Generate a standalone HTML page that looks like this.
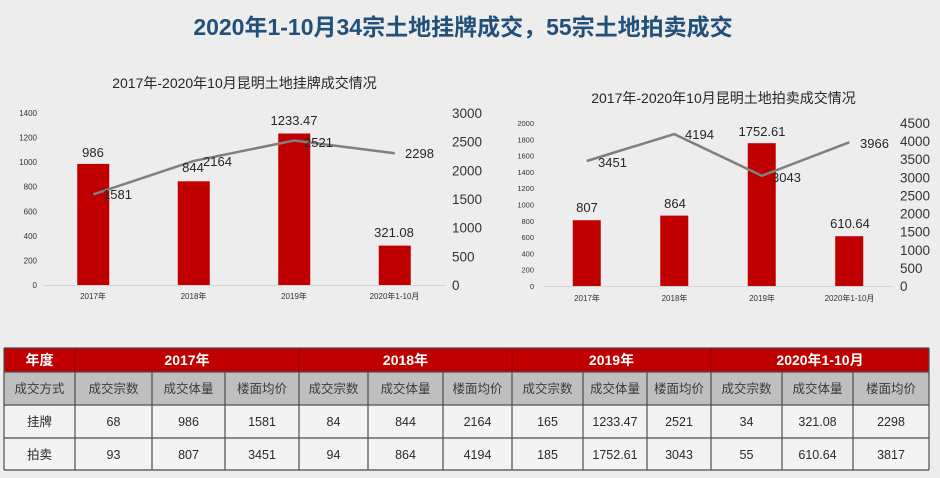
<!DOCTYPE html>
<html><head><meta charset="utf-8">
<style>
html,body{margin:0;padding:0;background:#eeeded;}
svg{display:block;}
text{font-family:"Liberation Sans","Noto Sans CJK SC",sans-serif;}
</style></head>
<body>
<svg width="940" height="478" viewBox="0 0 940 478" xmlns="http://www.w3.org/2000/svg">
<rect x="0" y="0" width="940" height="478" fill="#eeeded"/>
<!-- main title -->
<text x="463" y="35" text-anchor="middle" font-size="23" font-weight="bold" fill="#22507a" style="font-family:'Liberation Sans','Noto Sans CJK SC',sans-serif">2020年1-10月34宗土地挂牌成交，55宗土地拍卖成交</text>

<!-- ===== Chart 1 ===== -->
<text x="244.5" y="88" text-anchor="middle" font-size="14" fill="#262626">2017年-2020年10月昆明土地挂牌成交情况</text>
<g font-size="8" fill="#333" text-anchor="end">
<text x="37" y="288">0</text>
<text x="37" y="263.4">200</text>
<text x="37" y="238.9">400</text>
<text x="37" y="214.3">600</text>
<text x="37" y="189.7">800</text>
<text x="37" y="165.1">1000</text>
<text x="37" y="140.6">1200</text>
<text x="37" y="116">1400</text>
</g>
<g font-size="13.5" fill="#333">
<text x="452" y="290">0</text>
<text x="452" y="261.3">500</text>
<text x="452" y="232.7">1000</text>
<text x="452" y="204">1500</text>
<text x="452" y="175.3">2000</text>
<text x="452" y="146.7">2500</text>
<text x="452" y="118">3000</text>
</g>
<line x1="43" y1="285.5" x2="446" y2="285.5" stroke="#d4d4d4" stroke-width="1"/>
<g fill="#c00000">
<rect x="77.25" y="163.9" width="32" height="121.1"/>
<rect x="177.75" y="181.3" width="32" height="103.7"/>
<rect x="278.25" y="133.5" width="32" height="151.5"/>
<rect x="378.75" y="245.6" width="32" height="39.4"/>
</g>
<polyline points="93.25,194.4 193.75,160.9 294.25,140.5 394.75,153.2" fill="none" stroke="#7f7f7f" stroke-width="2.5"/>
<g font-size="13" fill="#262626">
<text x="93" y="157" text-anchor="middle">986</text>
<text x="193" y="172" text-anchor="middle">844</text>
<text x="294" y="125" text-anchor="middle">1233.47</text>
<text x="394" y="237" text-anchor="middle">321.08</text>
<text x="103" y="199">1581</text>
<text x="203" y="166">2164</text>
<text x="304" y="147">2521</text>
<text x="405" y="158">2298</text>
</g>
<g font-size="8" fill="#333" text-anchor="middle">
<text x="93" y="299">2017年</text>
<text x="193.5" y="299">2018年</text>
<text x="294" y="299">2019年</text>
<text x="394.5" y="299">2020年1-10月</text>
</g>

<!-- ===== Chart 2 ===== -->
<text x="723.5" y="103" text-anchor="middle" font-size="14" fill="#262626">2017年-2020年10月昆明土地拍卖成交情况</text>
<g font-size="7.5" fill="#333" text-anchor="end">
<text x="534" y="289">0</text>
<text x="534" y="272.7">200</text>
<text x="534" y="256.4">400</text>
<text x="534" y="240.1">600</text>
<text x="534" y="223.8">800</text>
<text x="534" y="207.5">1000</text>
<text x="534" y="191.2">1200</text>
<text x="534" y="174.9">1400</text>
<text x="534" y="158.6">1600</text>
<text x="534" y="142.3">1800</text>
<text x="534" y="126">2000</text>
</g>
<g font-size="13.5" fill="#333">
<text x="900" y="291">0</text>
<text x="900" y="272.9">500</text>
<text x="900" y="254.8">1000</text>
<text x="900" y="236.7">1500</text>
<text x="900" y="218.6">2000</text>
<text x="900" y="200.4">2500</text>
<text x="900" y="182.3">3000</text>
<text x="900" y="164.2">3500</text>
<text x="900" y="146.1">4000</text>
<text x="900" y="128">4500</text>
</g>
<line x1="543" y1="286.5" x2="893" y2="286.5" stroke="#d4d4d4" stroke-width="1"/>
<g fill="#c00000">
<rect x="572.75" y="220.2" width="28" height="65.8"/>
<rect x="660.25" y="215.6" width="28" height="70.4"/>
<rect x="747.75" y="143.2" width="28" height="142.8"/>
<rect x="835.25" y="236.2" width="28" height="49.8"/>
</g>
<polyline points="586.75,161 674.25,134.1 761.75,175.8 849.25,142.3" fill="none" stroke="#7f7f7f" stroke-width="2.5"/>
<g font-size="13" fill="#262626">
<text x="587" y="212" text-anchor="middle">807</text>
<text x="675" y="208" text-anchor="middle">864</text>
<text x="762" y="136" text-anchor="middle">1752.61</text>
<text x="850" y="228" text-anchor="middle">610.64</text>
<text x="598" y="167">3451</text>
<text x="685" y="139">4194</text>
<text x="772" y="182">3043</text>
<text x="860" y="148">3966</text>
</g>
<g font-size="8" fill="#333" text-anchor="middle">
<text x="587" y="301">2017年</text>
<text x="674.5" y="301">2018年</text>
<text x="762" y="301">2019年</text>
<text x="849.5" y="301">2020年1-10月</text>
</g>

<!-- ===== Table ===== -->
<rect x="4" y="348" width="925" height="24" fill="#c00000"/>
<rect x="4" y="372" width="925" height="33" fill="#bfbfbf"/>
<rect x="4" y="405" width="925" height="65" fill="#f3f3f3"/>
<g stroke="#8b0000" stroke-width="1">
<line x1="75" y1="348" x2="75" y2="372"/>
<line x1="299" y1="348" x2="299" y2="372"/>
<line x1="512" y1="348" x2="512" y2="372"/>
<line x1="711" y1="348" x2="711" y2="372"/>
</g>
<g stroke="#4d4d4d" stroke-width="1.2">
<line x1="4" y1="372" x2="929" y2="372"/>
<line x1="4" y1="405" x2="929" y2="405"/>
<line x1="4" y1="438" x2="929" y2="438"/>
<line x1="4" y1="470" x2="929" y2="470"/>
<line x1="4" y1="348" x2="929" y2="348"/>
<line x1="4" y1="348" x2="4" y2="470"/>
<line x1="929" y1="348" x2="929" y2="470"/>
<line x1="75" y1="372" x2="75" y2="470"/>
<line x1="152" y1="372" x2="152" y2="470"/>
<line x1="225" y1="372" x2="225" y2="470"/>
<line x1="299" y1="372" x2="299" y2="470"/>
<line x1="368" y1="372" x2="368" y2="470"/>
<line x1="443" y1="372" x2="443" y2="470"/>
<line x1="512" y1="372" x2="512" y2="470"/>
<line x1="583" y1="372" x2="583" y2="470"/>
<line x1="647" y1="372" x2="647" y2="470"/>
<line x1="711" y1="372" x2="711" y2="470"/>
<line x1="782" y1="372" x2="782" y2="470"/>
<line x1="853" y1="372" x2="853" y2="470"/>
</g>
<g font-size="14" font-weight="bold" fill="#ffffff" text-anchor="middle">
<text x="39.5" y="365">年度</text>
<text x="187" y="365">2017年</text>
<text x="405.5" y="365">2018年</text>
<text x="611.5" y="365">2019年</text>
<text x="820" y="365">2020年1-10月</text>
</g>
<g font-size="12.5" fill="#3a3a3a" text-anchor="middle">
<text x="39.5" y="393">成交方式</text>
<text x="113.5" y="393">成交宗数</text>
<text x="188.5" y="393">成交体量</text>
<text x="262" y="393">楼面均价</text>
<text x="333.5" y="393">成交宗数</text>
<text x="405.5" y="393">成交体量</text>
<text x="477.5" y="393">楼面均价</text>
<text x="547.5" y="393">成交宗数</text>
<text x="615" y="393">成交体量</text>
<text x="679" y="393">楼面均价</text>
<text x="746.5" y="393">成交宗数</text>
<text x="817.5" y="393">成交体量</text>
<text x="891" y="393">楼面均价</text>
</g>
<g font-size="12.5" fill="#2a2a2a" text-anchor="middle">
<text x="39.5" y="426">挂牌</text>
<text x="113.5" y="426">68</text>
<text x="188.5" y="426">986</text>
<text x="262" y="426">1581</text>
<text x="333.5" y="426">84</text>
<text x="405.5" y="426">844</text>
<text x="477.5" y="426">2164</text>
<text x="547.5" y="426">165</text>
<text x="615" y="426">1233.47</text>
<text x="679" y="426">2521</text>
<text x="746.5" y="426">34</text>
<text x="817.5" y="426">321.08</text>
<text x="891" y="426">2298</text>
<text x="39.5" y="459">拍卖</text>
<text x="113.5" y="459">93</text>
<text x="188.5" y="459">807</text>
<text x="262" y="459">3451</text>
<text x="333.5" y="459">94</text>
<text x="405.5" y="459">864</text>
<text x="477.5" y="459">4194</text>
<text x="547.5" y="459">185</text>
<text x="615" y="459">1752.61</text>
<text x="679" y="459">3043</text>
<text x="746.5" y="459">55</text>
<text x="817.5" y="459">610.64</text>
<text x="891" y="459">3817</text>
</g>
</svg>
</body></html>
